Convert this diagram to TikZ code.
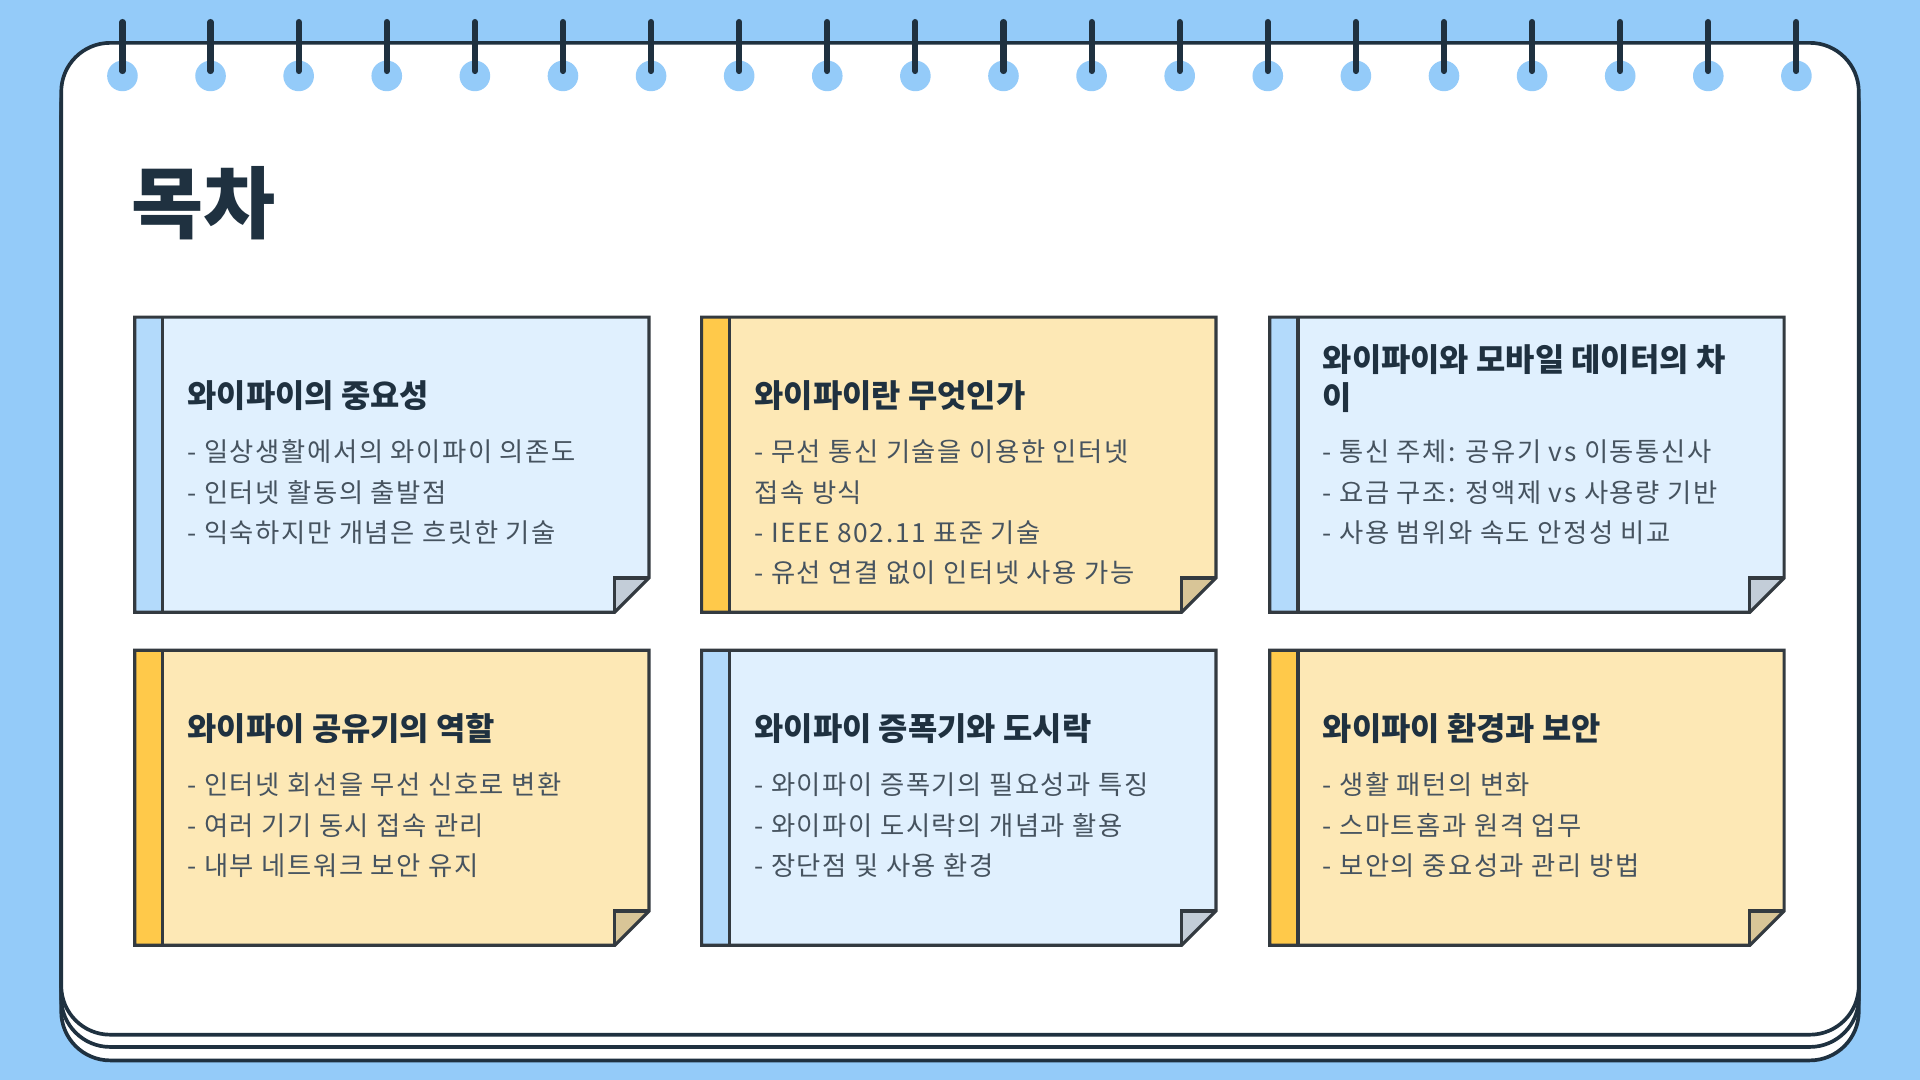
\documentclass[tikz,border=0pt]{standalone}
\usepackage{fontspec}
\setmainfont{Noto Sans CJK KR}
\newfontfamily\bulfont[LetterSpace=6]{Noto Sans CJK KR}
\definecolor{bg}{HTML}{94CBF9}
\definecolor{dk}{HTML}{1F3140}
\definecolor{ln}{HTML}{333A40}
\definecolor{bc}{HTML}{E0F0FE}
\definecolor{bs}{HTML}{B3DAFB}
\definecolor{bf}{HTML}{C3CDD8}
\definecolor{yc}{HTML}{FDE8B5}
\definecolor{ys}{HTML}{FFC94A}
\definecolor{yf}{HTML}{D8C597}
\definecolor{tx}{HTML}{46535F}
\tikzset{
 ttl/.style={anchor=west,font=\fontsize{26}{31}\selectfont\bfseries,text=dk,align=left,inner sep=0},
 bul/.style={anchor=north west,font=\bulfont\fontsize{21.5}{33}\selectfont,text=tx,align=left,inner sep=0},
}
\newcommand{\card}[6]{% x y cardcol stripecol foldcol content
 \begin{scope}[shift={(#1,#2)}]
 \fill[#3] (0,0) -- (420,0) -- (420,213) -- (392,241) -- (0,241) -- cycle;
 \fill[#4] (0,0) rectangle (23,241);
 \fill[#5] (392,213) -- (420,213) -- (392,241) -- cycle;
 \draw[ln,line width=2.6pt,line join=miter] (0,0) -- (420,0) -- (420,213) -- (392,241) -- (0,241) -- cycle;
 \draw[ln,line width=2.6pt] (23,0) -- (23,241);
 \draw[ln,line width=2.6pt] (420,213) -- (392,213) -- (392,241);
 #6
 \end{scope}}
\begin{document}
\begin{tikzpicture}[x=1pt,y=-1pt]
\fill[bg] (0,0) rectangle (1568,882);
\useasboundingbox (0,0) rectangle (1568,882);
\foreach \o in {21,10} {
 \draw[dk,fill=white,line width=3pt,rounded corners=40] (50,35+\o) rectangle (1518,845+\o);}
\draw[dk,fill=white,line width=3pt,rounded corners=40] (50,35) rectangle (1518,845);
\foreach \i in {0,...,19} {
 \fill[bg] (100+71.95*\i,62) circle (12.5);
 \draw[dk,line width=5pt,line cap=round] (100+71.95*\i,18) -- (100+71.95*\i,58);}
\node[anchor=west,font=\fontsize{64}{64}\selectfont\bfseries,text=dk,inner sep=0] (h) at (107,166) {목차};
% row 1
\card{110}{259}{bc}{bs}{bf}{
 \node[ttl] (at) at (43,64) {와이파이의 중요성};
 \node[bul] (ab) at (43,100) {- 일상생활에서의 와이파이 의존도\\- 인터넷 활동의 출발점\\- 익숙하지만 개념은 흐릿한 기술};}
\card{573}{259}{yc}{ys}{yf}{
 \node[ttl] (bt) at (43,64) {와이파이란 무엇인가};
 \node[bul] (bb) at (43,100) {- 무선 통신 기술을 이용한 인터넷\\접속 방식\\- IEEE 802.11 표준 기술\\- 유선 연결 없이 인터넷 사용 가능};}
\card{1037}{259}{bc}{bs}{bf}{
 \node[ttl] (ct) at (43,50) {와이파이와 모바일 데이터의 차\\이};
 \node[bul] (cb) at (43,100) {- 통신 주체: 공유기 vs 이동통신사\\- 요금 구조: 정액제 vs 사용량 기반\\- 사용 범위와 속도 안정성 비교};}
% row 2
\card{110}{531}{yc}{ys}{yf}{
 \node[ttl] (dt) at (43,64) {와이파이 공유기의 역할};
 \node[bul] (db) at (43,100) {- 인터넷 회선을 무선 신호로 변환\\- 여러 기기 동시 접속 관리\\- 내부 네트워크 보안 유지};}
\card{573}{531}{bc}{bs}{bf}{
 \node[ttl] (et) at (43,64) {와이파이 증폭기와 도시락};
 \node[bul] (eb) at (43,100) {- 와이파이 증폭기의 필요성과 특징\\- 와이파이 도시락의 개념과 활용\\- 장단점 및 사용 환경};}
\card{1037}{531}{yc}{ys}{yf}{
 \node[ttl] (ft) at (43,64) {와이파이 환경과 보안};
 \node[bul] (fb) at (43,100) {- 생활 패턴의 변화\\- 스마트홈과 원격 업무\\- 보안의 중요성과 관리 방법};}
\end{tikzpicture}
\end{document}
